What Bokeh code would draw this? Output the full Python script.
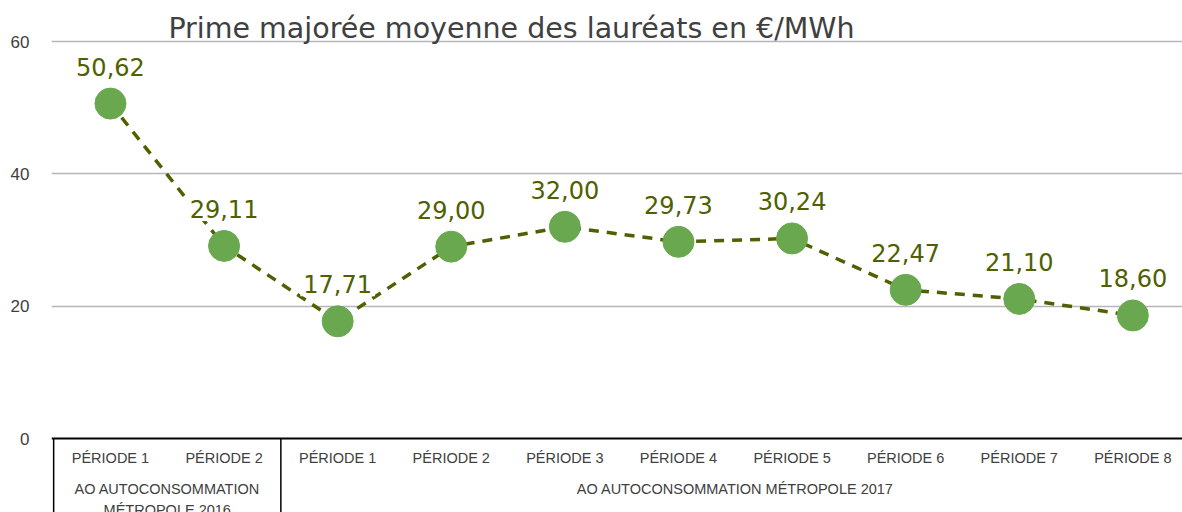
from bokeh.plotting import figure
from bokeh.models import Range1d, FixedTicker, Label, ColumnDataSource
from bokeh.embed import file_html
from bokeh.resources import INLINE
from bokeh.core.properties import value

periods = ["PÉRIODE 1", "PÉRIODE 2", "PÉRIODE 1", "PÉRIODE 2", "PÉRIODE 3",
           "PÉRIODE 4", "PÉRIODE 5", "PÉRIODE 6", "PÉRIODE 7", "PÉRIODE 8"]
groups = ["AO AUTOCONSOMMATION\nMÉTROPOLE 2016", "AO AUTOCONSOMMATION MÉTROPOLE 2017"]
group_sizes = [2, 8]
values = [50.62, 29.11, 17.71, 29.00, 32.00, 29.73, 30.24, 22.47, 21.10, 18.60]
value_labels = ["50,62", "29,11", "17,71", "29,00", "32,00", "29,73", "30,24", "22,47", "21,10", "18,60"]
title_text = "Prime majorée moyenne des lauréats en €/MWh"
y_ticks = [0, 20, 40, 60]

xs = list(range(len(values)))

p = figure(width=1182, height=512, output_backend="svg", toolbar_location=None,
           x_range=Range1d(-0.519, 9.437), y_range=Range1d(-11.18, 66.2),
           min_border_left=51, min_border_right=0, min_border_top=0, min_border_bottom=0)
p.outline_line_color = None
p.xaxis.visible = False
p.xgrid.visible = False
p.ygrid.ticker = FixedTicker(ticks=[20, 40, 60])
p.ygrid.grid_line_color = "#B8B4BC"
p.ygrid.grid_line_width = 1.5
p.yaxis.ticker = FixedTicker(ticks=y_ticks)
p.yaxis.axis_line_color = None
p.yaxis.major_tick_line_color = None
p.yaxis.minor_tick_line_color = None
p.yaxis.major_label_text_font = "Liberation Sans"
p.yaxis.major_label_text_font_size = "17px"
p.yaxis.major_label_text_color = "#404040"
p.yaxis.major_label_standoff = 16

# category box
p.segment(x0=[-0.519], y0=[0], x1=[9.437], y1=[0], line_color="black", line_width=2)
bounds = [-0.5]
acc = -0.5
for s in group_sizes:
    acc += s
    bounds.append(acc)
p.segment(x0=bounds[:-1], y0=[0] * (len(bounds) - 1), x1=bounds[:-1], y1=[-12] * (len(bounds) - 1),
          line_color="black", line_width=1.5)

p.text(x=xs, y=[-3.0] * len(xs), text=periods, text_align="center", text_baseline="middle",
       text_font=value("Liberation Sans"), text_font_size="14.5px", text_color="#404040")

centers = []
start = 0
for s in group_sizes:
    centers.append(start + (s - 1) / 2)
    start += s
p.text(x=centers, y=[-6.45] * len(centers), text=groups, text_align="center", text_baseline="top",
       text_font=value("Liberation Sans"), text_font_size="14.5px", text_color="#404040",
       text_line_height=1.3)

src = ColumnDataSource(dict(x=xs, y=values, lab=value_labels))
p.line("x", "y", source=src, line_color="#4F6000", line_width=3.5, line_dash="10 8")
p.scatter("x", "y", source=src, size=31, fill_color="#6AA84F", line_color="#6AA84F")
p.text("x", "y", text="lab", source=src, y_offset=-37, text_align="center", text_baseline="middle",
       text_font=value("DejaVu Sans"), text_font_size="24px", text_color="#4F6000",
       background_fill_color="white", padding=3)

p.add_layout(Label(x=0.51, y=61.96, text=title_text,
                   text_font="DejaVu Sans", text_font_size="28.5px", text_color="#404040",
                   text_baseline="middle"))

open("out.html", "w").write(file_html(p, INLINE))
